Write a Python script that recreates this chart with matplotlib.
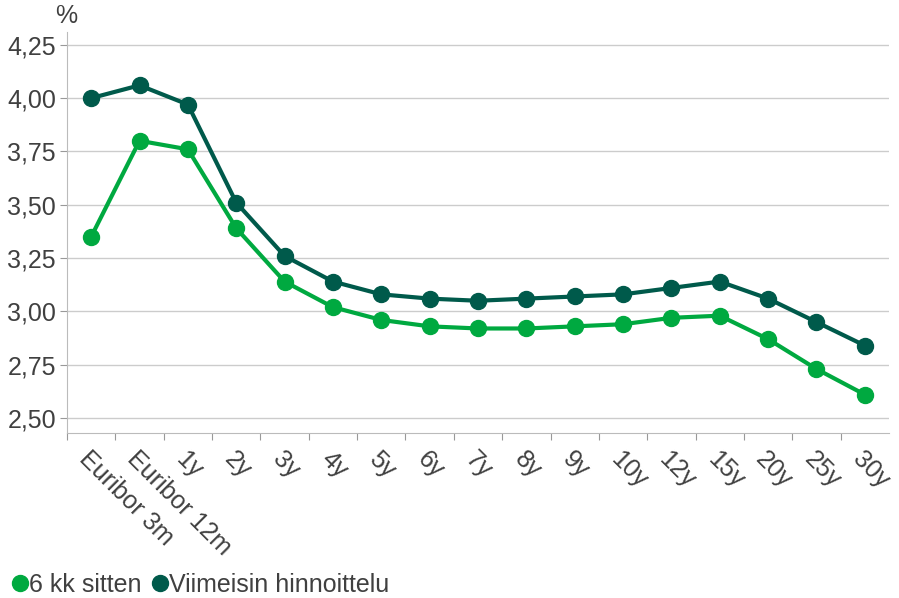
import matplotlib
matplotlib.use("Agg")
import matplotlib.pyplot as plt
from matplotlib.lines import Line2D
import numpy as np

plt.rcParams['font.family'] = ['Liberation Sans', 'DejaVu Sans']

categories = ["Euribor 3m", "Euribor 12m", "1y", "2y", "3y", "4y", "5y", "6y", "7y",
              "8y", "9y", "10y", "12y", "15y", "20y", "25y", "30y"]
six_months_ago = [3.35, 3.80, 3.76, 3.39, 3.14, 3.02, 2.96, 2.93, 2.92,
                  2.92, 2.93, 2.94, 2.97, 2.98, 2.87, 2.73, 2.61]
latest = [4.00, 4.06, 3.97, 3.51, 3.26, 3.14, 3.08, 3.06, 3.05,
          3.06, 3.07, 3.08, 3.11, 3.14, 3.06, 2.95, 2.84]
yticks = [2.50, 2.75, 3.00, 3.25, 3.50, 3.75, 4.00, 4.25]
series_names = ["6 kk sitten", "Viimeisin hinnoittelu"]

c_light = "#00A940"
c_dark = "#005A4B"
txt = "#404040"
fs = 18

fig = plt.figure(figsize=(8.99, 5.98), dpi=100)
ax = fig.add_axes([67/899, 1-433/598, (889-67)/899, (433-32)/598])

x = np.arange(len(categories))
ax.plot(x, six_months_ago, color=c_light, lw=3, marker='o', ms=11.5, zorder=3)
ax.plot(x, latest, color=c_dark, lw=3, marker='o', ms=11.5, zorder=4)

ax.set_xlim(-0.5, len(categories) - 0.5)
ax.set_ylim(2.43, 4.31)
ax.set_yticks(yticks)
ax.set_yticklabels([f"{v:.2f}".replace('.', ',') for v in yticks], fontsize=fs, color=txt)
ax.yaxis.grid(True, color="#cccccc", lw=1)
ax.set_axisbelow(True)

ax.set_xticks(np.arange(-0.5, len(categories) - 1, 1.0))
ax.set_xticklabels([])
ax.set_xticks(x, minor=True)
ax.set_xticklabels(categories, minor=True, rotation=-45, ha='left', va='top',
                   rotation_mode='anchor', fontsize=fs, color=txt)
ax.tick_params(axis='x', which='minor', length=0, pad=10)
ax.tick_params(axis='x', which='major', length=5, color="#999999", direction='out')
ax.tick_params(axis='y', length=5, color="#999999", pad=3)

for s in ['top', 'right']:
    ax.spines[s].set_visible(False)
ax.spines['left'].set_color("#bbbbbb")
ax.spines['bottom'].set_color("#bbbbbb")

fig.text(66/899, 1-16/598, "%", fontsize=fs, color=txt, ha='center', va='center')

handles = [Line2D([], [], color=c_light, marker='o', ls='none', ms=11.5),
           Line2D([], [], color=c_dark, marker='o', ls='none', ms=11.5)]
fig.legend(handles, series_names, loc='center left', bbox_to_anchor=(0.0, 1-585/598),
           ncol=2, frameon=False, fontsize=fs, handlelength=0.5, handletextpad=0.1,
           columnspacing=0.5, labelcolor=txt, borderaxespad=0.15)

fig.savefig("out.png", dpi=100)
